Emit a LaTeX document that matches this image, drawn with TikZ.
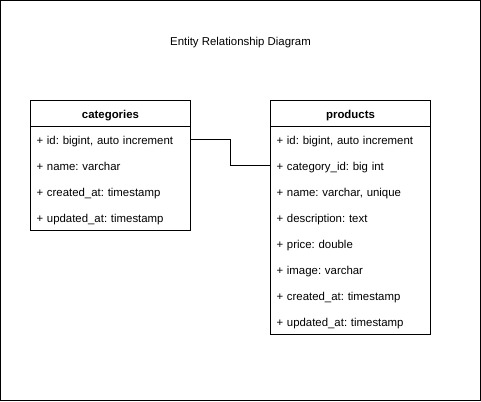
\documentclass[tikz,border=0pt]{standalone}
\usepackage{fontspec}
\setmainfont{Liberation Sans}
\usetikzlibrary{positioning,fit}
\frenchspacing

\tikzset{
        entity/.style={draw, line width=1pt, minimum width=160pt, minimum height=26pt,
                inner sep=0pt, outer sep=0pt, text height=12pt, text depth=2pt,
                font=\bfseries\fontsize{11.4}{13}\selectfont},
        field/.style={minimum width=160pt, minimum height=26pt, inner xsep=6pt, inner ysep=0pt,
                outer sep=0pt, text width=148pt, text height=12pt, text depth=2pt, align=left,
                font=\fontsize{11.4}{13}\selectfont},
        fieldbox/.style={draw, line width=1pt, inner sep=0pt},
        link/.style={draw, line width=1pt}
}

\begin{document}
\begin{tikzpicture}[x=1pt, y=-1pt]
        \useasboundingbox (0,0) rectangle (481,401);
        \draw[line width=1pt] (0.5,0.5) rectangle (480.5,400.5);

        \node[font=\fontsize{11.4}{13}\selectfont] (title) at (240.5,43) {Entity Relationship Diagram};

        % categories table
        \node[entity] (categories) at (110.5,113.5) {categories};
        \node[field] (cat id) [below=0pt of categories] {+ id: bigint, auto increment};
        \node[field] (cat name) [below=0pt of cat id] {+ name: varchar};
        \node[field] (cat created) [below=0pt of cat name] {+ created\_at: timestamp};
        \node[field] (cat updated) [below=0pt of cat created] {+ updated\_at: timestamp};
        \node[fieldbox, fit=(cat id) (cat updated)] {};

        % products table
        \node[entity] (products) at (350.5,113.5) {products};
        \node[field] (prod id) [below=0pt of products] {+ id: bigint, auto increment};
        \node[field] (prod category) [below=0pt of prod id] {+ category\_id: big int};
        \node[field] (prod name) [below=0pt of prod category] {+ name: varchar, unique};
        \node[field] (prod description) [below=0pt of prod name] {+ description: text};
        \node[field] (prod price) [below=0pt of prod description] {+ price: double};
        \node[field] (prod image) [below=0pt of prod price] {+ image: varchar};
        \node[field] (prod created) [below=0pt of prod image] {+ created\_at: timestamp};
        \node[field] (prod updated) [below=0pt of prod created] {+ updated\_at: timestamp};
        \node[fieldbox, fit=(prod id) (prod updated)] {};

        \draw[link] (cat id.east) -- ++(40,0) |- (prod category.west);
\end{tikzpicture}
\end{document}
